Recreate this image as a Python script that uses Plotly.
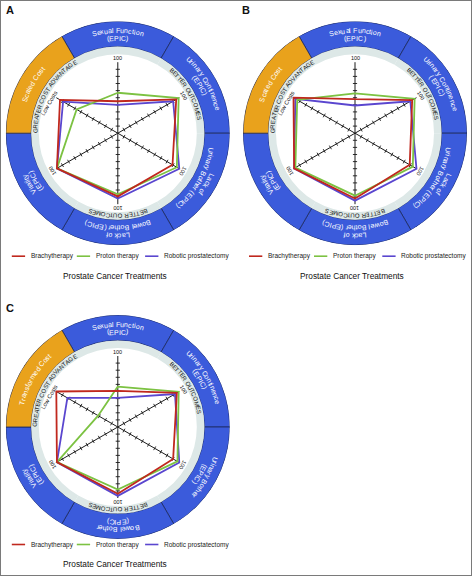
import math
import plotly.graph_objects as go

W, H = 472, 576

# ---------------- data ----------------
CATS_AB = ["Sexual Function (EPIC)", "Urinary Continence (EPIC)", "Lack of Urinary Bother (EPIC)",
           "Lack of Bowel Bother (EPIC)", "Vitality (EPIC)", "Scaled Cost"]
CATS_C = ["Sexual Function (EPIC)", "Urinary Continence (EPIC)", "Urinary Bother (EPIC)",
          "Bowel Bother (EPIC)", "Vitality (EPIC)", "Transformed Cost"]

RING_LINES_AB = [["Sexual Function", "(EPIC)"], ["Urinary Continence", "(EPIC)"],
                 ["Lack of", "Urinary Bother (EPIC)"], ["Lack of", "Bowel Bother (EPIC)"],
                 ["Vitality", "(EPIC)"], ["Scaled Cost"]]
RING_LINES_C = [["Sexual Function", "(EPIC)"], ["Urinary Continence", "(EPIC)"],
                ["Urinary Bother", "(EPIC)"], ["Bowel Bother", "(EPIC)"],
                ["Vitality", "(EPIC)"], ["Transformed Cost"]]

TREATMENTS = ["Brachytherapy", "Proton therapy", "Robotic prostatectomy"]

# order: sexual, continence, urinary bother, bowel bother, vitality, cost
a_brachy = [45, 95, 89, 89, 99, 94]
a_proton = [57, 99, 96, 86, 99, 67]
a_robotic = [40, 90, 100, 92, 99, 89]

b_brachy = [48, 93, 89, 92, 99, 100]
b_proton = [56, 97, 94, 88, 97, 94]
b_robotic = [39, 90, 100, 95, 99, 97]

c_brachy = [51, 96, 90, 94, 99, 100]
c_proton = [57, 99, 97, 88, 99, 32]
c_robotic = [41, 93, 100, 97, 99, 82]

AXIS_MAX = 100
TICK_VALUES = [10, 20, 30, 40, 50, 60, 70, 80, 90]

# ---------------- styling ----------------
COLORS = ["#c0281e", "#7cc242", "#5a46cf"]
BLUE = "#3b5bdb"
ORANGE = "#e9a21c"
LIGHT = "#dde8e7"
EDGE = "#1c2a5e"
FONT = "Liberation Sans, Arial, sans-serif"

R_OUT_PX = 112.0
PX_PER_UNIT = 0.71
RMAX = R_OUT_PX / PX_PER_UNIT
BLUE_IN = 86.6 / PX_PER_UNIT
LIGHT_IN = 79.0 / PX_PER_UNIT

# Arial advance widths (per 1000 em) used to lay text along arcs
CHAR_W = {" ": 278, "(": 333, ")": 333, "A": 667, "B": 667, "C": 722, "D": 722, "E": 667,
          "F": 611, "G": 778, "I": 278, "L": 556, "M": 833, "N": 722, "O": 778, "P": 667,
          "R": 722, "S": 667, "T": 611, "U": 722, "V": 667, "a": 556, "b": 556, "c": 500,
          "d": 556, "e": 556, "f": 278, "g": 556, "h": 556, "i": 222, "k": 500, "l": 222,
          "m": 833, "n": 556, "o": 556, "p": 556, "r": 333, "s": 500, "t": 278, "u": 556,
          "v": 500, "w": 722, "x": 500, "y": 500}

panels = [
    dict(key="polar", letter="A", cx=117.8, cy=133.2, letter_xy=(10, 10), cats=CATS_AB,
         lines=RING_LINES_AB, values=[a_brachy, a_proton, a_robotic], leg_dy=123, title_dy=142.5),
    dict(key="polar2", letter="B", cx=355.0, cy=133.2, letter_xy=(246, 10), cats=CATS_AB,
         lines=RING_LINES_AB, values=[b_brachy, b_proton, b_robotic], leg_dy=123, title_dy=142.5),
    dict(key="polar3", letter="C", cx=117.8, cy=427.0, letter_xy=(10, 308), cats=CATS_C,
         lines=RING_LINES_C, values=[c_brachy, c_proton, c_robotic], leg_dy=117.5, title_dy=136.5),
]


def to_paper(x, y):
    return x / W, 1 - y / H


def polar_pos(cx, cy, theta, rpx):
    t = math.radians(theta)
    return to_paper(cx + rpx * math.sin(t), cy - rpx * math.cos(t))


def arc_text(cx, cy, text, theta_c, rpx, size, color, spacing=1.0):
    """Lay text along a circular arc, reading clockwise, tops facing outward."""
    widths = [CHAR_W.get(ch, 556) / 1000.0 * size * spacing for ch in text]
    total = sum(widths)
    out = []
    s = -total / 2
    for ch, w in zip(text, widths):
        mid = s + w / 2
        s += w
        if ch == " ":
            continue
        ang = theta_c + math.degrees(mid / rpx)
        x, y = polar_pos(cx, cy, ang, rpx)
        out.append(dict(x=x, y=y, xref="paper", yref="paper", text=ch, showarrow=False,
                        textangle=ang, xanchor="center", yanchor="middle",
                        font=dict(family=FONT, size=size, color=color)))
    return out


fig = go.Figure()
annotations = []
shapes = []
layout_polars = {}

for p in panels:
    key, cats, cx, cy = p["key"], p["cats"], p["cx"], p["cy"]
    n = len(cats)
    angles = [i * 360 / n for i in range(n)]

    # outer coloured ring
    fig.add_trace(go.Barpolar(
        subplot=key, theta=cats, r=[RMAX - BLUE_IN] * n, base=[BLUE_IN] * n,
        marker=dict(color=[BLUE] * (n - 1) + [ORANGE], line=dict(color=EDGE, width=0.8)),
        hoverinfo="skip", showlegend=False))
    # light inner ring
    fig.add_trace(go.Barpolar(
        subplot=key, theta=cats, r=[BLUE_IN - LIGHT_IN] * n, base=[LIGHT_IN] * n,
        marker=dict(color=LIGHT, line=dict(width=0)),
        hoverinfo="skip", showlegend=False))

    # spokes (three diameters)
    sr, st = [], []
    for i in range(n // 2):
        sr += [AXIS_MAX, 0, AXIS_MAX, None]
        st += [cats[i], cats[i], cats[i + n // 2], None]
    fig.add_trace(go.Scatterpolar(
        subplot=key, r=sr, theta=st, mode="lines", line=dict(color="#1a1a1a", width=1),
        hoverinfo="skip", showlegend=False))

    # tick marks along spokes
    tr, tt, ta = [], [], []
    for i in range(n):
        for v in TICK_VALUES:
            tr.append(v)
            tt.append(cats[i])
            ta.append(angles[i])
    fig.add_trace(go.Scatterpolar(
        subplot=key, r=tr, theta=tt, mode="markers",
        marker=dict(symbol="line-ew", size=3, angle=ta, line=dict(color="#1a1a1a", width=0.9)),
        hoverinfo="skip", showlegend=False))

    # data polygons (draw robotic, proton, brachy so brachy on top)
    for idx in [2, 1, 0]:
        vals = p["values"][idx]
        fig.add_trace(go.Scatterpolar(
            subplot=key, r=vals + [vals[0]], theta=cats + [cats[0]], mode="lines",
            line=dict(color=COLORS[idx], width=1.8), name=TREATMENTS[idx],
            hoverinfo="skip", showlegend=False))

    # polar domain
    dx0, dy0 = to_paper(cx - R_OUT_PX, cy + R_OUT_PX)
    dx1, dy1 = to_paper(cx + R_OUT_PX, cy - R_OUT_PX)
    layout_polars[key] = dict(
        domain=dict(x=[dx0, dx1], y=[dy0, dy1]),
        bgcolor="white", bargap=0, barmode="overlay", hole=0,
        radialaxis=dict(visible=False, range=[0, RMAX]),
        angularaxis=dict(visible=False, rotation=90, direction="clockwise",
                         type="category", categoryarray=cats),
    )

    # ring labels (curved)
    for i, lines in enumerate(p["lines"]):
        ang = angles[i]
        radii = [99.0] if len(lines) == 1 else [102.6, 95.0]
        for txt, rpx in zip(lines, radii):
            annotations += arc_text(cx, cy, txt, ang, rpx, 7, "white", 1.04)

    # inner ring labels (curved)
    for ang, txt in [(60, "BETTER OUTCOMES"), (180, "BETTER OUTCOMES"), (300, "GREATER COST ADVANTAGE")]:
        annotations += arc_text(cx, cy, txt, ang, 82.6, 6.0, "#111")

    # "100" labels
    for ang in angles[:-1]:
        x, y = polar_pos(cx, cy, ang, 75.5)
        annotations.append(dict(x=x, y=y, xref="paper", yref="paper", text="100",
                                showarrow=False, textangle=ang, xanchor="center", yanchor="middle",
                                font=dict(family=FONT, size=5.5, color="#111")))
    x, y = polar_pos(cx, cy, 293.5, 74.5)
    annotations.append(dict(x=x, y=y, xref="paper", yref="paper", text="Low Costs",
                            showarrow=False, textangle=-60, xanchor="center", yanchor="middle",
                            font=dict(family=FONT, size=5.8, color="#111")))

    # legend
    ly = cy + p["leg_dy"]
    for idx, off in enumerate([-106.0, -41.0, 27.3]):
        x0, y0 = to_paper(cx + off, ly)
        x1, _ = to_paper(cx + off + 13.3, ly)
        shapes.append(dict(type="line", xref="paper", yref="paper", x0=x0, x1=x1, y0=y0, y1=y0,
                           line=dict(color=COLORS[idx], width=1.6)))
        tx, _ = to_paper(cx + off + 16.8, ly)
        annotations.append(dict(x=tx, y=y0, xref="paper", yref="paper", text=TREATMENTS[idx],
                                showarrow=False, xanchor="left", yanchor="middle",
                                font=dict(family=FONT, size=6.5, color="#222")))
    tx, ty = to_paper(cx - 3, cy + p["title_dy"])
    annotations.append(dict(x=tx, y=ty, xref="paper", yref="paper", text="Prostate Cancer Treatments",
                            showarrow=False, xanchor="center", yanchor="middle",
                            font=dict(family=FONT, size=8.3, color="#111")))
    lx, lyy = to_paper(*p["letter_xy"])
    annotations.append(dict(x=lx, y=lyy, xref="paper", yref="paper", text="<b>" + p["letter"] + "</b>",
                            showarrow=False, xanchor="center", yanchor="middle",
                            font=dict(family=FONT, size=11, color="#111")))

shapes.append(dict(type="rect", xref="paper", yref="paper", x0=0, y0=0, x1=1, y1=1,
                   line=dict(color="#7a7a7a", width=2)))

fig.update_layout(
    width=W, height=H, margin=dict(l=0, r=0, t=0, b=0),
    paper_bgcolor="white", plot_bgcolor="white",
    showlegend=False, annotations=annotations, shapes=shapes,
    **layout_polars,
)

fig.write_html("out.html", config={"displayModeBar": False},
               post_script="document.body.style.margin='0px';")
